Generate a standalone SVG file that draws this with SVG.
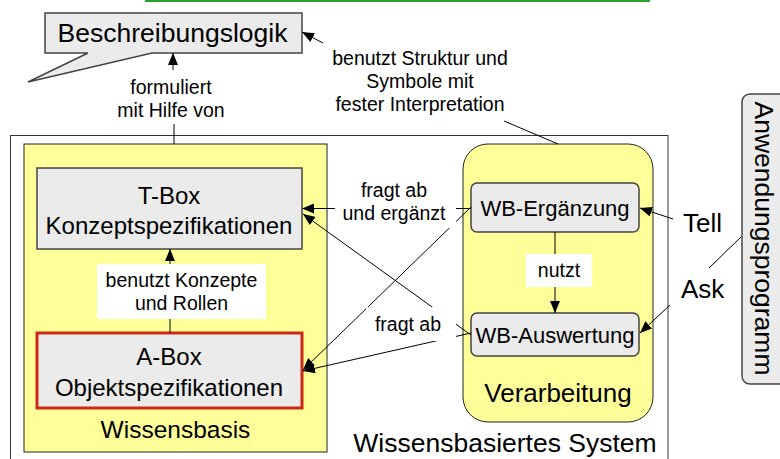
<svg xmlns="http://www.w3.org/2000/svg" width="780" height="459" viewBox="0 0 780 459">
  <defs>
    <marker id="arr" markerUnits="userSpaceOnUse" viewBox="0 0 12 10" markerWidth="12" markerHeight="10" refX="12" refY="5" orient="auto">
      <path d="M0,0 L12,5 L0,10 z" fill="#000"/>
    </marker>
  </defs>
  <style>
    text { font-family: "Liberation Sans", Arial, sans-serif; fill: #000; }
    .mid { text-anchor: middle; }
    .lbl { font-size: 19.5px; text-anchor: middle; }
    .box { fill: #ebebeb; stroke: #444; stroke-width: 1.5; }
    .yel { fill: #ffff99; stroke: #222; stroke-width: 1; }
    .ln { stroke: #000; stroke-width: 1; fill: none; }
    .arr { marker-end: url(#arr); }
    .bg { fill: #fff; }
  </style>

  <rect x="0" y="0" width="780" height="459" fill="#fff"/>
  <line x1="145" y1="1" x2="650" y2="1" stroke="#2ca02c" stroke-width="2"/>

  <!-- outer system frame -->
  <g id="wissensbasiertes-system">
    <rect x="10.5" y="135.5" width="657.5" height="340" fill="#fff" stroke="#333" stroke-width="1"/>
    <text x="505" y="452" class="mid" font-size="26.5">Wissensbasiertes System</text>
  </g>

  <g id="beschreibungslogik">
    <path d="M45,13 H302 V53 H152 L28,82 L88,53 H45 Z" class="box"/>
    <text x="172.5" y="42" class="mid" font-size="26.5">Beschreibungslogik</text>
  </g>

  <g id="wissensbasis">
    <rect x="24" y="144" width="303" height="308" class="yel"/>
    <text x="175.5" y="438" class="mid" font-size="24.5">Wissensbasis</text>
  </g>

  <g id="tbox">
    <rect x="37" y="168" width="265" height="81" class="box"/>
    <text x="169" y="204" class="mid" font-size="24">T-Box</text>
    <text x="169" y="234" class="mid" font-size="24">Konzeptspezifikationen</text>
  </g>

  <g id="abox">
    <rect x="37" y="333" width="265" height="75" fill="#ebebeb" stroke="#cc2a14" stroke-width="3"/>
    <text x="169" y="365" class="mid" font-size="24">A-Box</text>
    <text x="169" y="396" class="mid" font-size="24">Objektspezifikationen</text>
  </g>

  <g id="verarbeitung">
    <rect x="463" y="144" width="190" height="278" rx="25" ry="25" class="yel"/>
    <text x="558" y="402" class="mid" font-size="26">Verarbeitung</text>
  </g>

  <g id="wb-ergaenzung">
    <rect x="471" y="183" width="168" height="49" rx="6" ry="6" class="box"/>
    <text x="555" y="216" class="mid" font-size="22">WB-Ergänzung</text>
  </g>

  <g id="wb-auswertung">
    <rect x="471" y="313" width="168" height="43" rx="6" ry="6" class="box"/>
    <text x="555" y="343" class="mid" font-size="22">WB-Auswertung</text>
  </g>

  <g id="anwendungsprogramm">
    <rect x="742" y="94" width="60" height="290" rx="8" ry="8" class="box"/>
    <text transform="translate(755,238.5) rotate(90)" class="mid" font-size="26.5">Anwendungsprogramm</text>
  </g>

  <g id="connectors">
    <!-- formuliert mit Hilfe von -->
    <line x1="173" y1="70" x2="173" y2="53" class="ln arr"/>
    <line x1="174" y1="124" x2="174" y2="144" class="ln"/>
    <text x="171" y="94" class="lbl">formuliert</text>
    <text x="171" y="117" class="lbl">mit Hilfe von</text>

    <!-- benutzt Struktur und Symbole -->
    <line x1="323" y1="43" x2="302" y2="32" class="ln arr"/>
    <line x1="504" y1="121" x2="558" y2="144" class="ln"/>
    <text x="420" y="65" class="lbl">benutzt Struktur und</text>
    <text x="420" y="88" class="lbl">Symbole mit</text>
    <text x="420" y="111" class="lbl">fester Interpretation</text>

    <!-- A-Box uses T-Box -->
    <line x1="170" y1="264" x2="170" y2="249" class="ln arr"/>
    <line x1="170" y1="319" x2="170" y2="333" class="ln"/>
    <rect x="97" y="264" width="169" height="55" class="bg"/>
    <text x="181.5" y="287" class="lbl">benutzt Konzepte</text>
    <text x="181.5" y="310" class="lbl">und Rollen</text>

    <!-- processing to knowledge base -->
    <line x1="471" y1="208.5" x2="302" y2="208.5" class="ln arr"/>
    <line x1="471" y1="207" x2="303" y2="370" class="ln arr"/>
    <line x1="471" y1="335" x2="303" y2="214" class="ln arr"/>
    <line x1="471" y1="333" x2="303" y2="371" class="ln arr"/>
    <rect x="335" y="179" width="121" height="49" class="bg"/>
    <text x="394" y="197" class="lbl">fragt ab</text>
    <text x="394" y="220" class="lbl">und ergänzt</text>
    <rect x="366" y="307" width="90" height="34" class="bg"/>
    <text x="408" y="331" class="lbl">fragt ab</text>

    <!-- nutzt -->
    <line x1="555" y1="232" x2="555" y2="313" class="ln arr"/>
    <rect x="526" y="254" width="66" height="33" class="bg"/>
    <text x="559" y="277" class="lbl">nutzt</text>

    <!-- Tell / Ask -->
    <line x1="673" y1="219" x2="640" y2="208" class="ln arr"/>
    <line x1="670" y1="305" x2="640" y2="333" class="ln arr"/>
    <line x1="741" y1="237" x2="709" y2="268" class="ln"/>
    <text x="683" y="232" font-size="26">Tell</text>
    <text x="681" y="298" font-size="26">Ask</text>
  </g>
</svg>
